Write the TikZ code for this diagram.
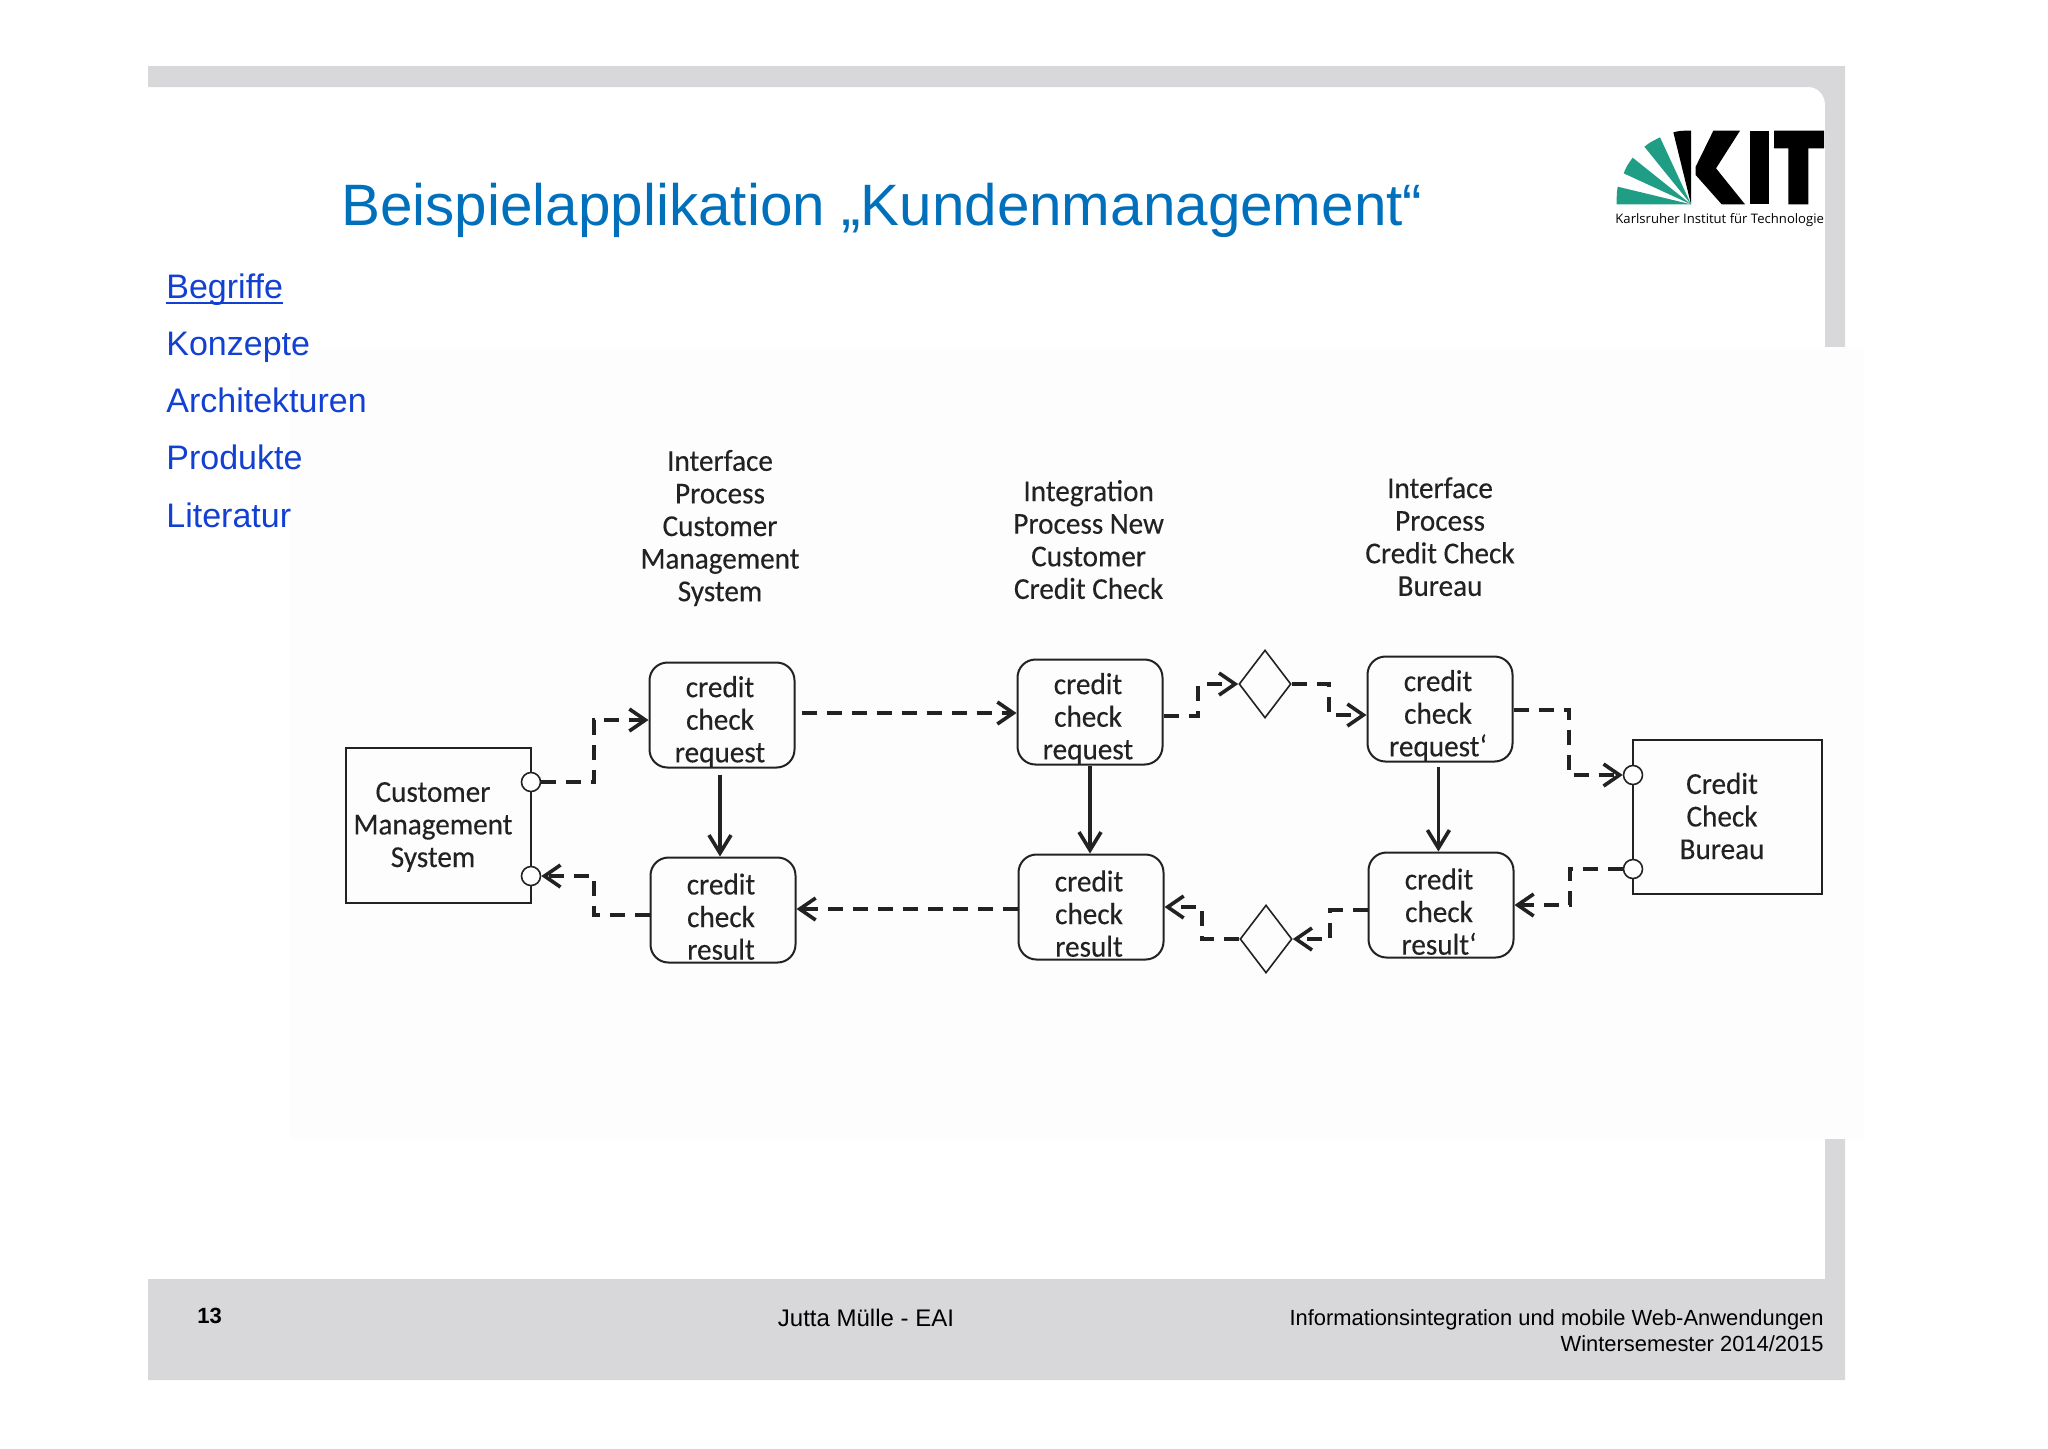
\documentclass[tikz,border=0pt]{standalone}
\usepackage{fontspec}
\setmainfont{Liberation Sans}
\newfontfamily\scanfont[FakeStretch=.96,FakeBold=.25]{Carlito}
\newfontfamily\logofont{Open Sans}
\usetikzlibrary{positioning}
\usetikzlibrary{arrows.meta}
\usetikzlibrary{shapes.geometric}

\definecolor{slidegray}{HTML}{D8D7D9}
\definecolor{scanwhite}{HTML}{FEFDFE}
\definecolor{titleblue}{HTML}{0070BC}
\definecolor{navblue}{HTML}{1240D2}
\definecolor{kitgreen}{HTML}{1F9E85}
\definecolor{inkgray}{HTML}{222222}

\tikzset{
    heading/.style={text=inkgray, align=center, inner sep=0pt, font=\scanfont\fontsize{15.2}{16.3}\selectfont},
    inbox/.style={heading, xshift=-1pt, yshift=-3.3pt},
    process/.style={draw=inkgray, line width=1pt, rounded corners=9pt, inner sep=0pt,
        minimum width=72.5pt, minimum height=52.5pt},
    system/.style={draw=inkgray, line width=1pt, inner sep=0pt},
    port/.style={circle, draw=inkgray, line width=.8pt, fill=white, inner sep=0pt, minimum size=9.5pt},
    gate/.style={diamond, draw=inkgray, line width=.8pt, inner sep=0pt, minimum width=26pt, minimum height=34pt},
    flow/.style={draw=inkgray, line width=2pt, dash pattern=on 7.5pt off 5pt,
        -{Straight Barb[length=8pt,width=11pt,line width=1.8pt]}},
    ctrl/.style={draw=inkgray, line width=1.6pt,
        -{Straight Barb[length=9pt,width=11pt,line width=1.8pt]}},
    nav/.style={anchor=base west, inner sep=0pt, text=navblue, font=\fontsize{17}{20}\selectfont},
    foot/.style={inner sep=0pt, text=black, font=\fontsize{10.95}{13.5}\selectfont}
}

\begin{document}
\begin{tikzpicture}[x=.5pt, y=-.5pt]
\useasboundingbox (0,0) rectangle (2048,1448);

% slide frame
\fill[slidegray] (148,66) -| (1845,1380) -| (148,1279) -- (1825,1279) -- (1825,105)
    .. controls (1825,95) and (1818,87) .. (1808,87) -- (148,87) -- cycle;
\fill[scanwhite] (290,347) rectangle (1864,1139);

% title and navigation
\node[anchor=base west, inner sep=0pt, text=titleblue, font=\fontsize{29.2}{34}\selectfont] (title) at (341,225) {Beispielapplikation „Kundenmanagement“};
\node[nav] (nav1) at (166,298) {Begriffe};
\node[nav] (nav2) at (166,355.5) {Konzepte};
\node[nav] (nav3) at (166,412.5) {Architekturen};
\node[nav] (nav4) at (166,469.5) {Produkte};
\node[nav] (nav5) at (166,527) {Literatur};
\draw[navblue, line width=.9pt] ([yshift=-2.6pt]nav1.base west) -- ([yshift=-2.6pt]nav1.base east);

% logo
\begin{scope}[shift={(1550,60)}, x=.16667pt, y=-.16667pt]
\fill[kitgreen] (423,433) -- (203,380) .. controls (200,400) .. (200,433) -- cycle;
\fill[kitgreen] (423,433) -- (221,340) .. controls (230,318) .. (248,293) -- cycle;
\fill[kitgreen] (423,433) -- (283,260) .. controls (300,247) .. (330,232) -- cycle;
\fill[black] (423,433) -- (370,217) .. controls (390,212) .. (423,212) -- cycle;
\fill[black] (490,212) -- (570,212) -- (498,325) -- (585,433) -- (515,433) -- (437,345) -- (437,320) -- cycle;
\fill[black] (600,212) rectangle (658,433);
\fill[black] (672,212) -- (822,212) -- (822,265) -- (775,265) -- (775,433) -- (715,433) -- (715,265) -- (672,265) -- cycle;
\node[anchor=base, inner sep=0pt, font=\logofont\fontsize{6.55}{8}\selectfont] (logotext) at (509,490) {Karlsruher Institut für Technologie};
\end{scope}

% processes
\node[process, label={[inbox]center:{credit\\check\\request}}] (req1) at (722,715) {};
\node[process, label={[inbox]center:{credit\\check\\result}}] (res1) at (723,910) {};
\node[process, label={[inbox]center:{credit\\check\\request}}] (req2) at (1090,712) {};
\node[process, label={[inbox]center:{credit\\check\\result}}] (res2) at (1091,907) {};
\node[process, label={[inbox]center:{credit\\check\\request‘}}] (req3) at (1440,709) {};
\node[process, label={[inbox]center:{credit\\check\\result‘}}] (res3) at (1441,905) {};
\node[system, minimum width=92.5pt, minimum height=77.5pt,
    label={[heading, xshift=-2.5pt, yshift=-1pt]center:{Customer\\Management\\System}}] (cms) at (438,825) {};
\node[system, minimum width=94.5pt, minimum height=77pt,
    label={[heading, xshift=-2.5pt, yshift=.5pt]center:{Credit\\Check\\Bureau}}] (ccb) at (1727,817) {};
\node[gate] (diaTop) at (1265,684) {};
\node[gate] (diaBot) at (1266,939) {};
\node[port] (cmsOut) at (531,782) {};
\node[port] (cmsIn) at (531,876) {};
\node[port] (ccbIn) at (1633,775) {};
\node[port] (ccbOut) at (1633,869) {};

% headings
\node[heading, above=27.5pt of req1, xshift=-1pt] (head1) {Interface\\Process\\Customer\\Management\\System};
\node[heading, above=29.5pt of req2, xshift=-.7pt] (head2) {Integration\\Process New\\Customer\\Credit Check};
\node[heading, above=29.5pt of req3] (head3) {Interface\\Process\\Credit Check\\Bureau};

% bends
\coordinate (bendA) at (594,720);
\coordinate (levelB) at (0,713);
\coordinate (bendC) at (1198,716);
\coordinate (bendD) at (1329,715);
\coordinate (bendE) at (1569,710);
\coordinate (bendF) at (1570,905);
\coordinate (bendG) at (1330,910);
\coordinate (bendH) at (1202,907);
\coordinate (levelJ) at (0,909);
\coordinate (bendK) at (594,915);

% message flows
\draw[flow] (cmsOut.east) -| (bendA) -- (bendA -| req1.west);
\draw[flow, shorten <=3pt] (req1.east |- levelB) -- (req2.west |- levelB);
\draw[flow] (bendC -| req2.east) -- (bendC) |- (diaTop.west);
\draw[flow] (diaTop.east) -| (bendD) -- (bendD -| req3.west);
\draw[flow] (bendE -| req3.east) -- (bendE) |- (ccbIn.west);
\draw[flow] (ccbOut.west) -| (bendF) -- (bendF -| res3.east);
\draw[flow] (bendG -| res3.west) -- (bendG) |- (diaBot.east);
\draw[flow] (diaBot.west) -| (bendH) -- (bendH -| res2.east);
\draw[flow] (res2.west |- levelJ) -- (res1.east |- levelJ);
\draw[flow] (bendK -| res1.west) -- (bendK) |- (cmsIn.east);

% control flows
\draw[ctrl, shorten <=3pt] ([xshift=-1pt]req1.south) -- ([xshift=-1.5pt]res1.north);
\draw[ctrl] (req2.south) -- ([xshift=-.5pt]res2.north);
\draw[ctrl, shorten <=2pt] ([xshift=-.8pt]req3.south) -- ([xshift=-1.3pt]res3.north);

% footer
\node[foot, anchor=base west, font=\bfseries\fontsize{11}{13.5}\selectfont] (pageno) at (197,1323) {13};
\node[foot, anchor=base, font=\fontsize{12}{14}\selectfont] (author) at (866,1326) {Jutta Mülle - EAI};
\node[foot, anchor=base east] (course) at (1824,1325) {Informationsintegration und mobile Web-Anwendungen};
\node[foot, anchor=base east] (term) at (1824,1351) {Wintersemester 2014/2015};
\end{tikzpicture}
\end{document}
